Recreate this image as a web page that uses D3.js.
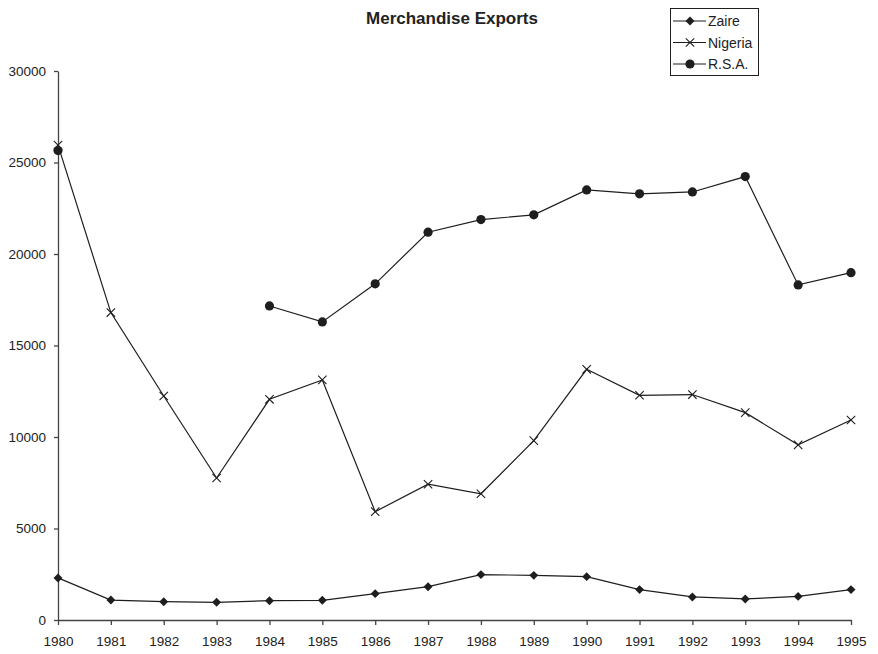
<!DOCTYPE html>
<html>
<head>
<meta charset="utf-8">
<script src="https://cdn.jsdelivr.net/npm/d3@7"></script>
<style>
  html, body { margin: 0; padding: 0; background: #fff; }
  svg { display: block; font-family: "Liberation Sans", Arial, sans-serif; }
</style>
</head>
<body>
<svg id="chart" width="878" height="654"></svg>
<script>
// Merchandise exports by year, 1980–1995
const years = [1980, 1981, 1982, 1983, 1984, 1985, 1986, 1987, 1988, 1989, 1990, 1991, 1992, 1993, 1994, 1995];
const zaire = [2300, 1090, 1000, 965, 1055, 1075, 1440, 1820, 2480, 2440, 2370, 1660, 1260, 1150, 1290, 1660];
const nigeria = [25950, 16800, 12240, 7760, 12060, 13120, 5920, 7420, 6900, 9800, 13700, 12280, 12320, 11330, 9570, 10930];
const rsa = [25650, null, null, null, 17160, 16290, 18370, 21190, 21880, 22140, 23500, 23290, 23390, 24230, 18310, 18980];
const yTicks = [0, 5000, 10000, 15000, 20000, 25000, 30000];
const seriesNames = ["Zaire", "Nigeria", "R.S.A."];
const seriesMarkers = ["diamond", "cross", "circle"];

const svg = d3.select("#chart");
const ink = "#1e1e1e";

const x = d3.scalePoint().domain(years).range([58, 851]);
const y = d3.scaleLinear().domain([0, 30000]).range([620, 71]);

// Title
svg.append("text")
  .attr("x", 452).attr("y", 24)
  .attr("text-anchor", "middle")
  .attr("font-size", 17)
  .attr("font-weight", "bold")
  .attr("fill", "#222")
  .text("Merchandise Exports");

// Axes
const xAxis = svg.append("g")
  .attr("transform", "translate(0,620)")
  .call(d3.axisBottom(x).tickSize(5).tickPadding(11).tickSizeOuter(0));
const yAxis = svg.append("g")
  .attr("transform", "translate(58,0)")
  .call(d3.axisLeft(y).tickValues(yTicks).tickFormat(d3.format("d")).tickSize(4).tickPadding(8).tickSizeOuter(0));

[xAxis, yAxis].forEach(g => {
  g.select(".domain").attr("stroke", "#444").attr("stroke-width", 1.3);
  g.selectAll(".tick line").attr("stroke", "#444").attr("stroke-width", 1.3);
  g.selectAll(".tick text")
    .attr("fill", "#222")
    .attr("font-size", 13.5)
    .attr("font-family", "'Liberation Sans', Arial, sans-serif");
});

// Marker shapes: filled diamond, thin cross, filled circle
function drawMarker(g, kind, cx, cy) {
  if (kind === "diamond") {
    g.append("path")
      .attr("d", d3.symbol().type(d3.symbolSquare).size(40)())
      .attr("transform", `translate(${cx},${cy}) rotate(45)`)
      .attr("fill", ink);
  } else if (kind === "circle") {
    g.append("circle").attr("cx", cx).attr("cy", cy).attr("r", 4.6).attr("fill", ink);
  } else {
    const s = 4.2;
    g.append("path")
      .attr("d", `M${cx - s},${cy - s}L${cx + s},${cy + s}M${cx - s},${cy + s}L${cx + s},${cy - s}`)
      .attr("stroke", ink).attr("stroke-width", 1.1).attr("fill", "none");
  }
}

const line = d3.line()
  .defined(d => d.v !== null)
  .x(d => x(d.year))
  .y(d => y(d.v));

const allSeries = [zaire, nigeria, rsa];
allSeries.forEach((vals, i) => {
  const data = years.map((yr, j) => ({ year: yr, v: vals[j] }));
  const g = svg.append("g");
  g.append("path")
    .datum(data)
    .attr("d", line)
    .attr("fill", "none")
    .attr("stroke", ink)
    .attr("stroke-width", 1.2);
  data.filter(d => d.v !== null).forEach(d => drawMarker(g, seriesMarkers[i], x(d.year), y(d.v)));
});

// Legend
const legend = svg.append("g");
legend.append("rect")
  .attr("x", 670.5).attr("y", 8.5)
  .attr("width", 88).attr("height", 67)
  .attr("fill", "#fff").attr("stroke", ink).attr("stroke-width", 1);
seriesNames.forEach((name, i) => {
  const ly = 21 + i * 21.5;
  legend.append("line")
    .attr("x1", 673).attr("x2", 706)
    .attr("y1", ly).attr("y2", ly)
    .attr("stroke", ink).attr("stroke-width", 1.2);
  drawMarker(legend, seriesMarkers[i], 690, ly);
  legend.append("text")
    .attr("x", 708).attr("y", ly + 5)
    .attr("font-size", 14)
    .attr("fill", "#222")
    .text(name);
});
</script>
</body>
</html>
